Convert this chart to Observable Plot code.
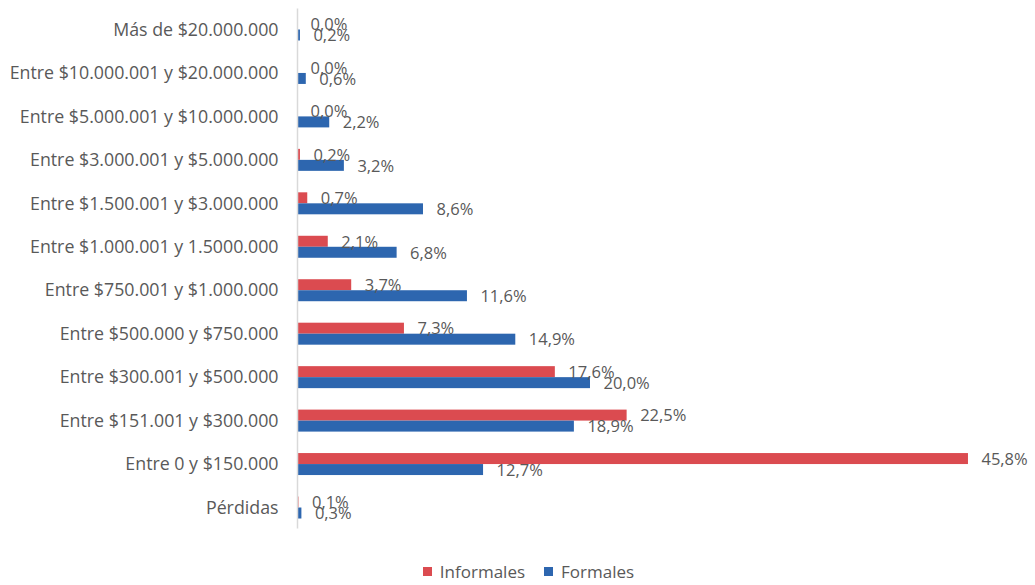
<!DOCTYPE html>
<html><head><meta charset="utf-8">
<script src="https://cdn.jsdelivr.net/npm/d3@7"></script>
<script src="https://cdn.jsdelivr.net/npm/@observablehq/plot@0.6"></script>
<style>
body{margin:0;background:#fff;font-family:"Open Sans",sans-serif;}
#legend{height:27px;padding-top:18px;display:flex;justify-content:center;align-items:center;gap:19px;font-size:17px;color:#595959;padding-left:22px;}
#legend .item{display:flex;align-items:center;gap:8px;}
#legend .sw{width:9px;height:9px;display:inline-block;}
</style></head><body>
<div id="chart"></div>
<div id="legend"></div>
<script>
const categories = [
  "Más de $20.000.000",
  "Entre $10.000.001 y $20.000.000",
  "Entre $5.000.001 y $10.000.000",
  "Entre $3.000.001 y $5.000.000",
  "Entre $1.500.001 y $3.000.000",
  "Entre $1.000.001 y 1.5000.000",
  "Entre $750.001 y $1.000.000",
  "Entre $500.000 y $750.000",
  "Entre $300.001 y $500.000",
  "Entre $151.001 y $300.000",
  "Entre 0 y $150.000",
  "Pérdidas"
];
const informales = [0.0, 0.0, 0.0, 0.2, 0.7, 2.1, 3.7, 7.3, 17.6, 22.5, 45.8, 0.1];
const formales   = [0.2, 0.6, 2.2, 3.2, 8.6, 6.8, 11.6, 14.9, 20.0, 18.9, 12.7, 0.3];
const seriesNames = ["Informales", "Formales"];
const seriesColors = ["#db4b50", "#2d66af"];

const inf = categories.map((c, i) => ({cat: c, value: informales[i]}));
const frm = categories.map((c, i) => ({cat: c, value: formales[i]}));
const fmt = v => v.toFixed(1).replace(".", ",") + "%";

const chart = Plot.plot({
  width: 1035,
  height: 540,
  marginLeft: 297,
  marginRight: 5.5,
  marginTop: 8.5,
  marginBottom: 11.5,
  style: {fontFamily: "Open Sans, sans-serif", fontSize: "17.8px", color: "#595959", background: "#fff"},
  x: {domain: [0, 50], axis: null},
  y: {domain: categories, round: false, paddingInner: 0.494, paddingOuter: 0.23, tickSize: 0, tickPadding: 19, label: null},
  marks: [
    Plot.barX(inf, {x: "value", y: "cat", fill: seriesColors[0], insetBottom: 11}),
    Plot.barX(frm, {x: "value", y: "cat", fill: seriesColors[1], insetTop: 11}),
    Plot.ruleX([0], {stroke: "#d9d9d9", strokeWidth: 1.5}),
    Plot.text(inf, {x: "value", y: "cat", text: d => fmt(d.value), textAnchor: "start", dx: 13, dy: -5, fill: "#595959", fontSize: 16.5}),
    Plot.text(frm, {x: "value", y: "cat", text: d => fmt(d.value), textAnchor: "start", dx: 13, dy: 6, fill: "#595959", fontSize: 16.5})
  ]
});
document.getElementById("chart").appendChild(chart);

const legend = document.getElementById("legend");
seriesNames.forEach((n, i) => {
  const it = document.createElement("span");
  it.className = "item";
  it.innerHTML = `<span class="sw" style="background:${seriesColors[i]}"></span><span>${n}</span>`;
  legend.appendChild(it);
});
</script>
</body></html>
